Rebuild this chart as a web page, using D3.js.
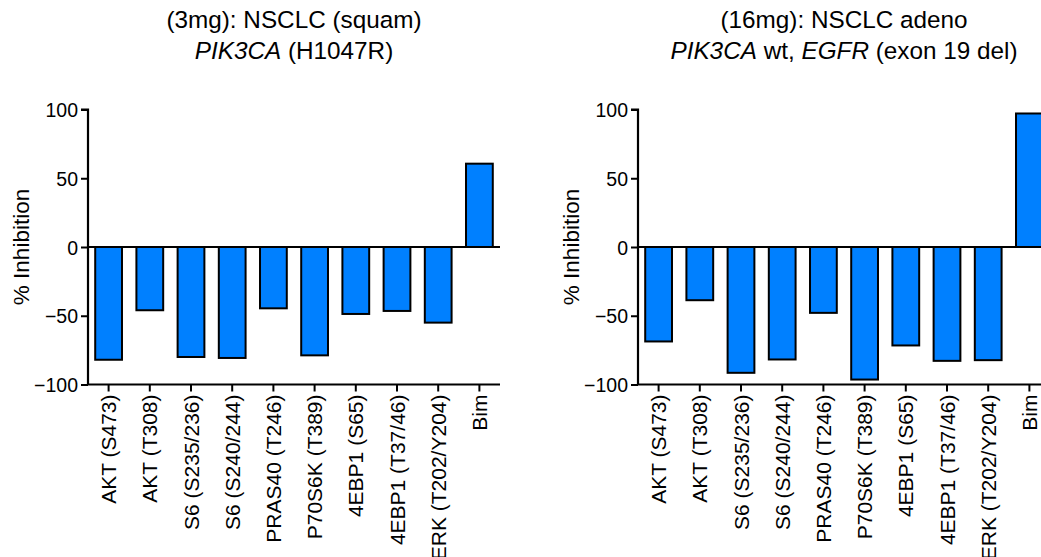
<!DOCTYPE html>
<html>
<head>
<meta charset="utf-8">
<script src="https://cdn.jsdelivr.net/npm/d3@7"></script>
<style>
  html, body { margin: 0; padding: 0; background: #fff; }
  svg { display: block; }
  text { font-family: Arial, "Liberation Sans", Helvetica, sans-serif; fill: #000; }
</style>
</head>
<body>
<svg id="chart" width="1041" height="557"></svg>
<script>
// Phospho-marker response per patient, % inhibition vs baseline
const markers = ["AKT (S473)", "AKT (T308)", "S6 (S235/236)", "S6 (S240/244)",
  "PRAS40 (T246)", "P70S6K (T389)", "4EBP1 (S65)", "4EBP1 (T37/46)",
  "ERK (T202/Y204)", "Bim"];
const squamValues = [-82, -46, -80, -80.7, -44.6, -78.8, -48.7, -46.5, -55, 60.6];
const adenoValues = [-68.7, -38.7, -91.5, -81.8, -47.9, -96.4, -71.6, -82.8, -82.3, 97.1];
const yTicks = [-100, -50, 0, 50, 100];

const panels = [
  { title: "(3mg): NSCLC (squam)",
    sub: [{ t: "PIK3CA", i: true }, { t: " (H1047R)" }],
    values: squamValues, x0: 88, x1: 500 },
  { title: "(16mg): NSCLC adeno",
    sub: [{ t: "PIK3CA", i: true }, { t: " wt, " }, { t: "EGFR", i: true }, { t: " (exon 19 del)" }],
    values: adenoValues, x0: 638, x1: 1050 }
];

const svg = d3.select("#chart");
const y = d3.scaleLinear().domain([-100, 100]).range([384.5, 109.5]);
const barFill = "#0080ff";

panels.forEach(p => {
  const g = svg.append("g");
  const x = d3.scaleBand().domain(markers).range([p.x0, p.x1])
    .paddingInner(0.35).paddingOuter(0.175);
  const cx = (p.x0 + p.x1) / 2;

  // bars
  g.selectAll("rect.bar").data(markers).join("rect")
    .attr("class", "bar")
    .attr("x", d => x(d))
    .attr("width", x.bandwidth())
    .attr("y", (d, i) => y(Math.max(0, p.values[i])))
    .attr("height", (d, i) => Math.abs(y(p.values[i]) - y(0)))
    .attr("fill", barFill)
    .attr("stroke", "#000")
    .attr("stroke-width", 2);

  // zero line
  g.append("line")
    .attr("x1", p.x0).attr("x2", p.x1)
    .attr("y1", y(0)).attr("y2", y(0))
    .attr("stroke", "#000").attr("stroke-width", 2.2);

  // y axis
  const yAxis = g.append("g").attr("transform", `translate(${p.x0},0)`)
    .call(d3.axisLeft(y).tickValues(yTicks).tickSize(7).tickPadding(3).tickFormat(d3.format("d")));
  yAxis.select(".domain").attr("stroke-width", 2.2).attr("d", `M-7,${y(100)}H0V${y(-100)}`);
  yAxis.selectAll(".tick line").attr("stroke-width", 2);
  yAxis.selectAll(".tick text").style("font-size", "19.5px").attr("dy", "0.36em");

  // x axis at the bottom
  const xAxis = g.append("g").attr("transform", `translate(0,${y(-100)})`)
    .call(d3.axisBottom(x).tickSize(7).tickPadding(3).tickSizeOuter(0));
  xAxis.select(".domain").attr("stroke-width", 2.2).attr("d", `M${p.x0},0H${p.x1}`);
  xAxis.selectAll(".tick line").attr("stroke-width", 2);
  xAxis.selectAll(".tick text")
    .style("font-size", "21px")
    .attr("text-anchor", "end")
    .attr("transform", "rotate(-90)")
    .attr("x", -10).attr("y", 0).attr("dy", "0.36em");

  // y-axis title
  g.append("text")
    .attr("transform", `translate(${p.x0 - 67},${y(0)}) rotate(-90)`)
    .attr("text-anchor", "middle")
    .attr("dy", "0.36em")
    .style("font-size", "22.5px")
    .text("% Inhibition");

  // chart titles
  g.append("text").attr("x", cx).attr("y", 28)
    .attr("text-anchor", "middle").style("font-size", "24.3px")
    .text(p.title);
  const t2 = g.append("text").attr("x", cx).attr("y", 59)
    .attr("text-anchor", "middle").style("font-size", "24.3px");
  p.sub.forEach(s => t2.append("tspan").style("font-style", s.i ? "italic" : "normal").text(s.t));
});
</script>
</body>
</html>
